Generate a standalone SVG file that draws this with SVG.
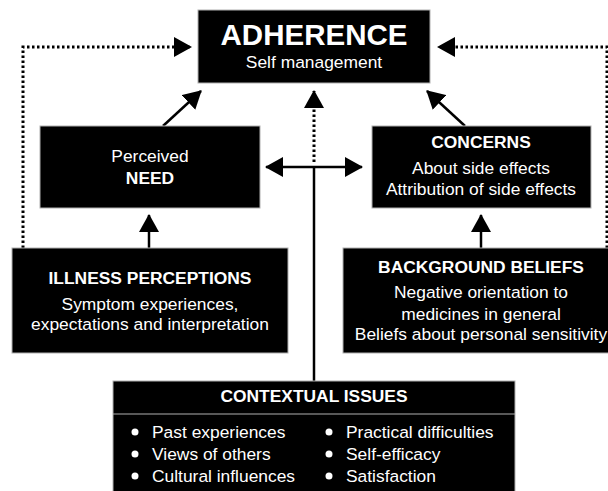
<svg xmlns="http://www.w3.org/2000/svg" width="608" height="491" viewBox="0 0 608 491">
<style>
.box{fill:#000;stroke:#b0b0b0;stroke-width:1}
.t{font-family:"Liberation Sans",Arial,sans-serif;fill:#fff;font-size:17.4px}
.c{text-anchor:middle}
.b{font-weight:bold}
.solid{fill:none;stroke:#000;stroke-width:2.5}
.dot{fill:none;stroke:#000;stroke-width:3;stroke-dasharray:2.5 2.5}
</style>
<defs>
<marker id="ah" markerUnits="userSpaceOnUse" viewBox="0 0 18 20" markerWidth="18" markerHeight="20" refX="17" refY="10" orient="auto-start-reverse">
<path d="M0,0 L18,10 L0,20 Z" fill="#000"/>
</marker>
</defs>
<rect width="608" height="491" fill="#fff"/>
<g id="connectors">
<path class="dot" d="M23,248 V47 H191" marker-end="url(#ah)"/>
<path class="dot" d="M607,248 V47 H438" marker-end="url(#ah)"/>
<path class="dot" d="M314,162 V91" marker-end="url(#ah)"/>
<path class="solid" d="M163,126 L201,91" marker-end="url(#ah)"/>
<path class="solid" d="M465,126 L427,91" marker-end="url(#ah)"/>
<path class="solid" d="M266,167 H362" marker-start="url(#ah)" marker-end="url(#ah)"/>
<path class="solid" d="M314,167 V381"/>
<path class="solid" d="M149,248 V215" marker-end="url(#ah)"/>
<path class="solid" d="M481,248 V215" marker-end="url(#ah)"/>
</g>
<g id="adherence">
<rect class="box" x="198" y="10" width="232" height="73"/>
<text class="t c b" x="314" y="45" style="font-size:29.5px">ADHERENCE</text>
<text class="t c" x="314" y="68">Self management</text>
</g>
<g id="need">
<rect class="box" x="40" y="126" width="220" height="82"/>
<text class="t c" x="150" y="162">Perceived</text>
<text class="t c b" x="150" y="184">NEED</text>
</g>
<g id="concerns">
<rect class="box" x="372" y="126" width="219" height="82"/>
<text class="t c b" x="481" y="148">CONCERNS</text>
<text class="t c" x="481" y="174">About side effects</text>
<text class="t c" x="481" y="195">Attribution of side effects</text>
</g>
<g id="illness">
<rect class="box" x="12" y="248" width="276" height="105"/>
<text class="t c b" x="150" y="284">ILLNESS PERCEPTIONS</text>
<text class="t c" x="150" y="310">Symptom experiences,</text>
<text class="t c" x="150" y="330">expectations and interpretation</text>
</g>
<g id="background">
<rect class="box" x="343" y="248" width="280" height="105"/>
<text class="t c b" x="481" y="273">BACKGROUND BELIEFS</text>
<text class="t c" x="481" y="298">Negative orientation to</text>
<text class="t c" x="481" y="320">medicines in general</text>
<text class="t c" x="481" y="340">Beliefs about personal sensitivity</text>
</g>
<g id="contextual">
<rect class="box" x="113" y="381" width="402" height="120"/>
<line x1="113" y1="414" x2="515" y2="414" stroke="#b0b0b0" stroke-width="1"/>
<text class="t c b" x="314" y="402">CONTEXTUAL ISSUES</text>
<g fill="#fff">
<circle cx="135" cy="432" r="3.5"/><circle cx="135" cy="454" r="3.5"/><circle cx="135" cy="476" r="3.5"/>
<circle cx="329" cy="432" r="3.5"/><circle cx="329" cy="454" r="3.5"/><circle cx="329" cy="476" r="3.5"/>
</g>
<text class="t" x="152" y="438">Past experiences</text>
<text class="t" x="152" y="460">Views of others</text>
<text class="t" x="152" y="482">Cultural influences</text>
<text class="t" x="346" y="438">Practical difficulties</text>
<text class="t" x="346" y="460">Self-efficacy</text>
<text class="t" x="346" y="482">Satisfaction</text>
</g>
</svg>
